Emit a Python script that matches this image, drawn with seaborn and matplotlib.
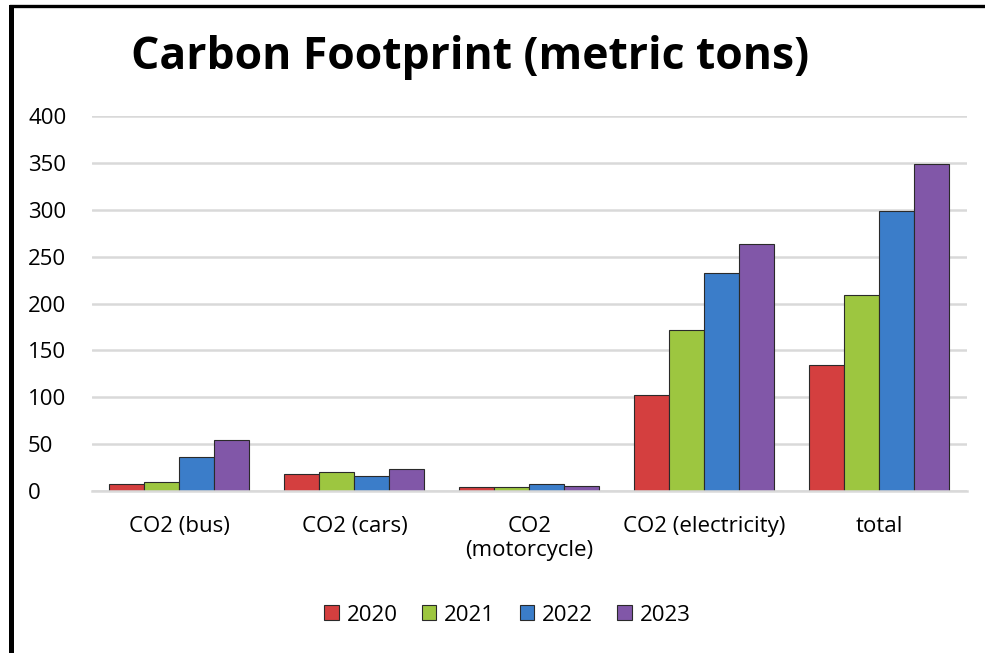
import matplotlib
matplotlib.use("Agg")
from matplotlib import pyplot as plt
from matplotlib.lines import Line2D
import pandas as pd
import seaborn as sns

categories = ["CO2 (bus)", "CO2 (cars)", "CO2\n(motorcycle)", "CO2 (electricity)", "total"]
years = ["2020", "2021", "2022", "2023"]
values_2020 = [8, 18, 4, 102, 134]
values_2021 = [10, 20.5, 4, 172, 209]
values_2022 = [36, 16, 8, 233, 299]
values_2023 = [54, 24, 5, 264, 349]
colors = ["#D43F3F", "#9DC640", "#3B7DC9", "#8157A8"]

rows = []
for year, vals in zip(years, [values_2020, values_2021, values_2022, values_2023]):
    for cat, v in zip(categories, vals):
        rows.append({"category": cat, "year": year, "value": v})
df = pd.DataFrame(rows)

sns.set_style("white")
plt.rcParams["font.family"] = ["Open Sans", "DejaVu Sans"]
plt.rcParams["text.color"] = "black"

fig = plt.figure(figsize=(9.85, 6.53), dpi=100)
ax = fig.add_axes([0.0934, 0.248, 0.888, 0.574])
sns.barplot(data=df, x="category", y="value", hue="year", palette=colors,
            width=0.8, edgecolor="#2a2a2a", linewidth=0.8, ax=ax, saturation=1)

ax.set_ylim(0, 400)
ax.set_xlim(-0.5, 4.5)
ax.set_yticks(range(0, 401, 50))
ax.grid(axis="y", color="#D9D9D9", linewidth=1.8)
ax.set_axisbelow(True)
for s in ["left", "right", "top"]:
    ax.spines[s].set_visible(False)
ax.spines["bottom"].set_color("#D9D9D9")
ax.spines["bottom"].set_linewidth(1.8)
ax.tick_params(axis="both", length=0, labelsize=16, colors="black")
ax.tick_params(axis="y", pad=46)
ax.tick_params(axis="x", pad=18)
for lab in ax.get_yticklabels():
    lab.set_horizontalalignment("left")
ax.set_xlabel("")
ax.set_ylabel("")

leg = ax.legend(loc="center", bbox_to_anchor=(0.515, 0.058), bbox_transform=fig.transFigure,
                ncol=4, frameon=False, fontsize=16, handlelength=0.65, handleheight=0.65,
                handletextpad=0.35, columnspacing=1.1)
for t in leg.get_texts():
    t.set_color("black")

fig.text(0.477, 0.912, "Carbon Footprint (metric tons)", ha="center", va="center",
         fontsize=32, fontweight="bold", color="black")

# chart frame: only left and top edges are visible in the crop
fig.lines.append(Line2D([0.0107, 0.0107], [0.0, 0.99], transform=fig.transFigure,
                        color="black", linewidth=3.6, solid_capstyle="projecting"))
fig.lines.append(Line2D([0.0107, 1.0], [0.9915, 0.9915], transform=fig.transFigure,
                        color="black", linewidth=2.4, solid_capstyle="projecting"))

fig.savefig("out.png", dpi=100)
